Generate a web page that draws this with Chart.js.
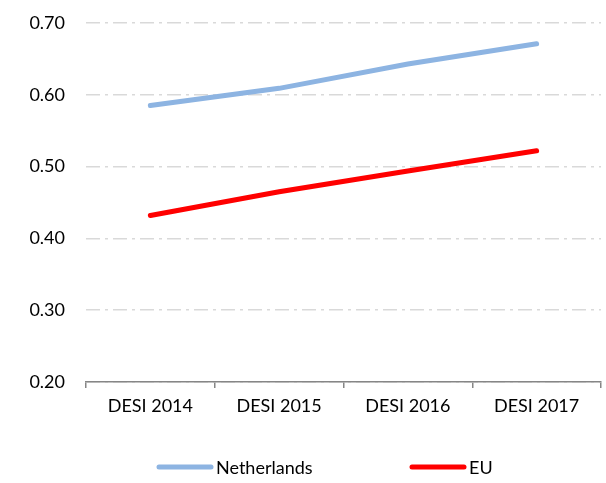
<!DOCTYPE html>
<html>
<head>
<meta charset="utf-8">
<script src="https://cdn.jsdelivr.net/npm/chart.js@4/dist/chart.umd.min.js"></script>
<style>
  html, body { margin: 0; padding: 0; background: #fff; }
  #wrap { width: 606px; height: 483px; position: relative; }
</style>
</head>
<body>
<div id="wrap"><canvas id="c"></canvas></div>
<script>
const categories = ["DESI 2014", "DESI 2015", "DESI 2016", "DESI 2017"];
const netherlands = [0.585, 0.609, 0.643, 0.671];
const eu = [0.432, 0.465, 0.494, 0.522];
const yTicks = [0.20, 0.30, 0.40, 0.50, 0.60, 0.70];

const FONT = "Lato, 'Open Sans', sans-serif";
const FSIZE = 18;

const bottomLegend = {
  id: 'bottomLegend',
  afterDraw(chart) {
    const ctx = chart.ctx;
    const starts = [157, 410];
    const y = 467;
    ctx.save();
    ctx.font = FSIZE + 'px ' + FONT;
    ctx.textBaseline = 'middle';
    ctx.textAlign = 'left';
    chart.data.datasets.forEach((ds, i) => {
      const x = starts[i];
      ctx.strokeStyle = ds.borderColor;
      ctx.lineWidth = 5;
      ctx.lineCap = 'round';
      ctx.beginPath();
      ctx.moveTo(x + 2, y);
      ctx.lineTo(x + 54, y);
      ctx.stroke();
      ctx.fillStyle = '#000';
      ctx.fillText(ds.label, x + 59, y + 1);
    });
    ctx.restore();
  }
};

new Chart(document.getElementById('c'), {
  type: 'line',
  data: {
    labels: categories,
    datasets: [
      { label: 'Netherlands', data: netherlands, borderColor: '#8DB4E2', backgroundColor: '#8DB4E2',
        borderWidth: 5, pointRadius: 0, borderCapStyle: 'round', tension: 0 },
      { label: 'EU', data: eu, borderColor: '#FF0000', backgroundColor: '#FF0000',
        borderWidth: 5, pointRadius: 0, borderCapStyle: 'round', tension: 0 }
    ]
  },
  plugins: [bottomLegend],
  options: {
    responsive: true,
    maintainAspectRatio: false,
    animation: false,
    layout: { padding: { top: 23, right: 5, left: 0, bottom: 61 } },
    plugins: {
      tooltip: { enabled: false },
      legend: { display: false }
    },
    scales: {
      x: {
        offset: true,
        afterFit: (s) => { s.height = 40; s.paddingLeft = 0; s.paddingRight = 0; },
        grid: { display: true, offset: true, drawOnChartArea: false, drawTicks: true, tickLength: 6, color: '#868686', lineWidth: 1.5 },
        border: { display: true, color: '#868686', width: 1.5 },
        ticks: { color: '#000', font: { family: FONT, size: FSIZE }, padding: 7,
          maxRotation: 0, minRotation: 0, autoSkip: false }
      },
      y: {
        min: 0.2, max: 0.7,
        afterFit: (s) => { s.width = 86; s.paddingTop = 0; s.paddingBottom = 0; },
        afterBuildTicks: (s) => { s.ticks = yTicks.map(v => ({ value: v })); },
        grid: { color: '#D9D9D9', lineWidth: 1.5, drawTicks: false, borderDash: [14, 5, 3, 5] },
        border: { display: false, dash: [14, 5, 3, 5] },
        ticks: { color: '#000', font: { family: FONT, size: FSIZE }, padding: 21,
          callback: (v) => Number(v).toFixed(2) }
      }
    }
  }
});
</script>
</body>
</html>
